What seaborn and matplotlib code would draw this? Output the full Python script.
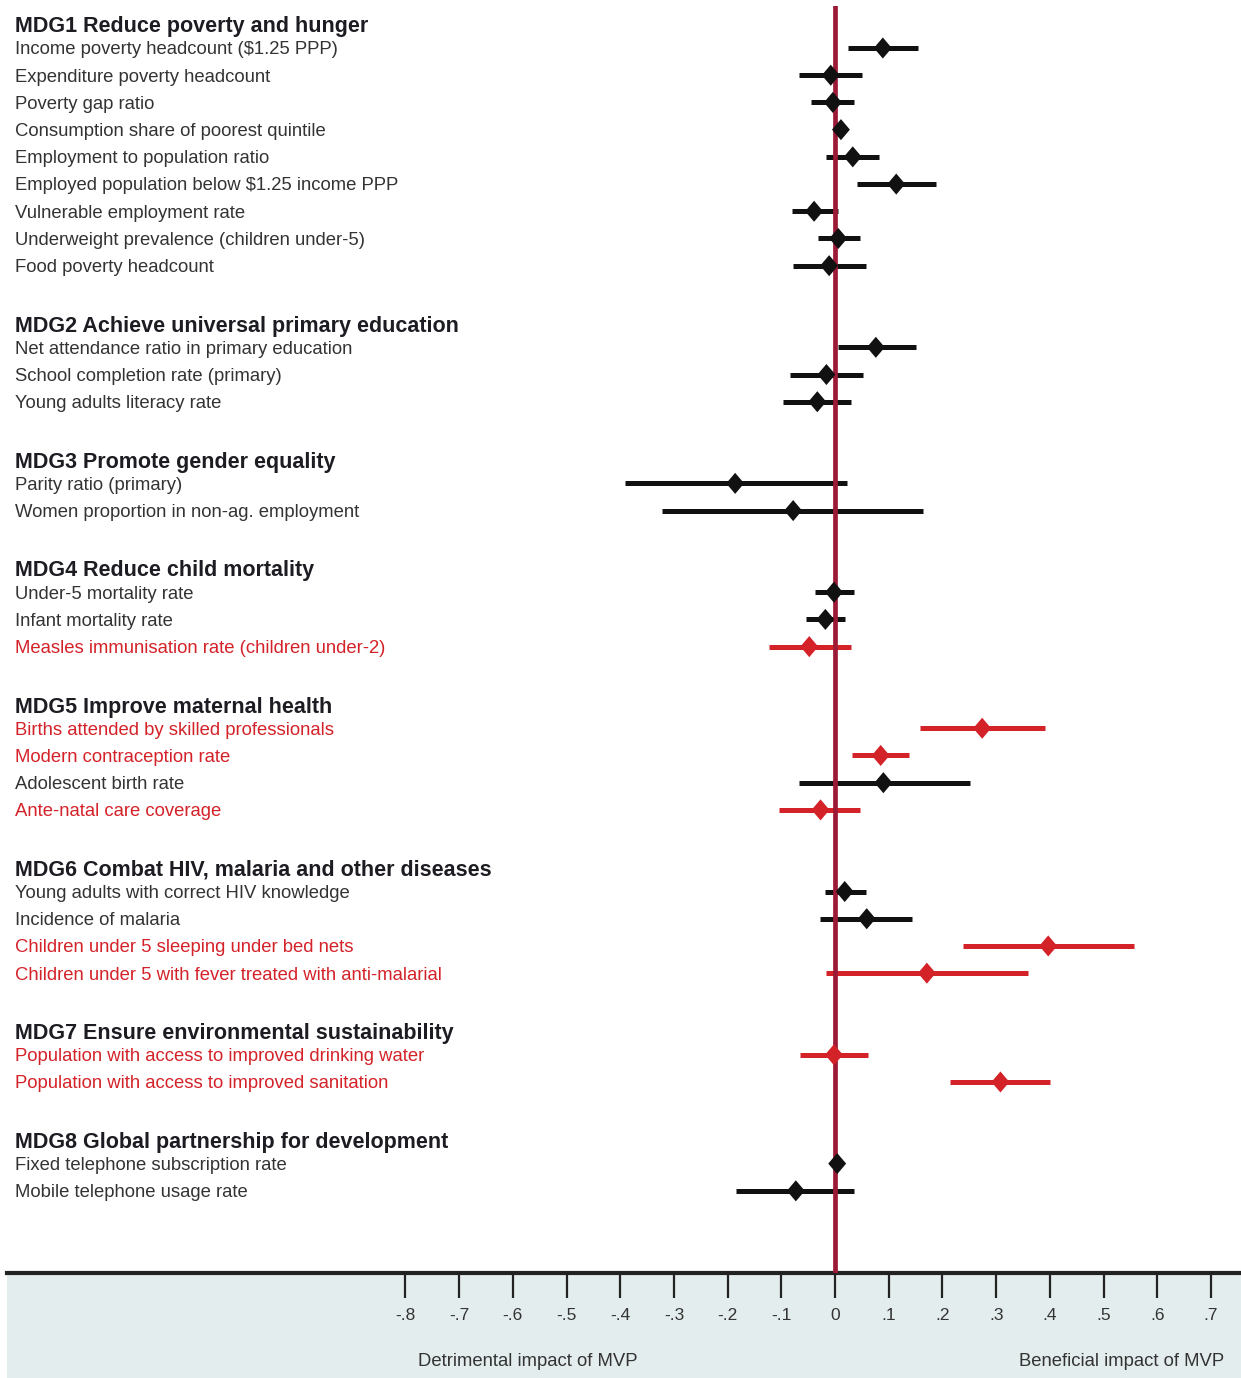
import numpy as np
import pandas as pd
import matplotlib.pyplot as plt
from matplotlib.path import Path
from matplotlib.markers import MarkerStyle
from matplotlib.patches import Rectangle
import seaborn as sns

sns.set_theme(style="white")
plt.rcParams['font.family'] = ['Liberation Sans', 'DejaVu Sans']

# ---- data ----
groups = [
    "MDG1 Reduce poverty and hunger",
    "MDG2 Achieve universal primary education",
    "MDG3 Promote gender equality",
    "MDG4 Reduce child mortality",
    "MDG5 Improve maternal health",
    "MDG6 Combat HIV, malaria and other diseases",
    "MDG7 Ensure environmental sustainability",
    "MDG8 Global partnership for development",
]
group_sizes = [9, 3, 2, 3, 4, 4, 2, 2]

indicators = [
    "Income poverty headcount ($1.25 PPP)",
    "Expenditure poverty headcount",
    "Poverty gap ratio",
    "Consumption share of poorest quintile",
    "Employment to population ratio",
    "Employed population below $1.25 income PPP",
    "Vulnerable employment rate",
    "Underweight prevalence (children under-5)",
    "Food poverty headcount",
    "Net attendance ratio in primary education",
    "School completion rate (primary)",
    "Young adults literacy rate",
    "Parity ratio (primary)",
    "Women proportion in non-ag. employment",
    "Under-5 mortality rate",
    "Infant mortality rate",
    "Measles immunisation rate (children under-2)",
    "Births attended by skilled professionals",
    "Modern contraception rate",
    "Adolescent birth rate",
    "Ante-natal care coverage",
    "Young adults with correct HIV knowledge",
    "Incidence of malaria",
    "Children under 5 sleeping under bed nets",
    "Children under 5 with fever treated with anti-malarial",
    "Population with access to improved drinking water",
    "Population with access to improved sanitation",
    "Fixed telephone subscription rate",
    "Mobile telephone usage rate",
]
estimate = [0.089, -0.008, -0.004, 0.011, 0.033, 0.114, -0.039, 0.006, -0.011,
            0.076, -0.016, -0.033,
            -0.186, -0.078,
            -0.002, -0.018, -0.048,
            0.274, 0.085, 0.090, -0.027,
            0.018, 0.059, 0.397, 0.171,
            -0.002, 0.308,
            0.004, -0.073]
ci_low = [0.024, -0.068, -0.045, 0.004, -0.016, 0.041, -0.081, -0.031, -0.078,
          0.005, -0.083, -0.097,
          -0.391, -0.322,
          -0.038, -0.054, -0.123,
          0.158, 0.031, -0.068, -0.104,
          -0.019, -0.028, 0.238, -0.016,
          -0.065, 0.215,
          0.000, -0.185]
ci_high = [0.154, 0.050, 0.035, 0.018, 0.082, 0.188, 0.005, 0.047, 0.057,
           0.151, 0.052, 0.029,
           0.022, 0.164,
           0.035, 0.019, 0.029,
           0.391, 0.138, 0.251, 0.047,
           0.057, 0.144, 0.557, 0.359,
           0.061, 0.401,
           0.008, 0.035]
significant = [0, 0, 0, 0, 0, 0, 0, 0, 0,
               0, 0, 0,
               0, 0,
               0, 0, 1,
               1, 1, 0, 1,
               0, 0, 1, 1,
               1, 1,
               0, 0]

tick_values = [-0.8, -0.7, -0.6, -0.5, -0.4, -0.3, -0.2, -0.1, 0, 0.1, 0.2, 0.3, 0.4, 0.5, 0.6, 0.7]
tick_labels = ['-.8', '-.7', '-.6', '-.5', '-.4', '-.3', '-.2', '-.1', '0',
               '.1', '.2', '.3', '.4', '.5', '.6', '.7']

RED = '#d42229'
BLACK = '#111111'
LINE_RED = '#9c1a36'

# ---- row layout: header, items, blank ----
header_rows = []
item_rows = []
r = 0
for n in group_sizes:
    header_rows.append(r)
    item_rows.extend(range(r + 1, r + 1 + n))
    r += n + 2

df = pd.DataFrame({
    'indicator': indicators,
    'row': item_rows,
    'estimate': estimate,
    'low': ci_low,
    'high': ci_high,
    'sig': ['yes' if s else 'no' for s in significant],
})

W, H = 1241, 1378
fig = plt.figure(figsize=(W / 100, H / 100), dpi=100)
ax = fig.add_axes([7 / W, (H - 1273) / H, (W - 7) / W, (1273 - 6) / H])

# light band under the axis
fig.patches.append(Rectangle((7 / W, 0), (W - 7) / W, (H - 1273) / H,
                             transform=fig.transFigure, facecolor='#e4eded',
                             edgecolor='none', zorder=-5))

colors = {'no': BLACK, 'yes': RED}
for _, row in df.iterrows():
    ax.hlines(row['row'], row['low'], row['high'], color=colors[row['sig']],
              linewidth=3.6, zorder=2)

ax.axvline(0, color=LINE_RED, linewidth=3.4, zorder=3)

diamond = MarkerStyle(Path([(0, 1), (0.85, 0), (0, -1), (-0.85, 0), (0, 1)]))
sns.scatterplot(data=df, x='estimate', y='row', hue='sig', palette=colors,
                marker=diamond, s=230, linewidth=0, legend=False, ax=ax, zorder=4)

# labels on the left
lab_tr = ax.get_yaxis_transform()
for g, hr in zip(groups, header_rows):
    ax.text(0.0065, hr + 0.22, g, transform=lab_tr, ha='left', va='center',
            fontsize=15.5, fontweight='bold', color='#1c1c22')
for _, row in df.iterrows():
    ax.text(0.0065, row['row'] + 0.07, row['indicator'], transform=lab_tr, ha='left',
            va='center', fontsize=13.3,
            color=RED if row['sig'] == 'yes' else '#333333')

ax.set_xlim(-1.542, 0.756)
ax.set_ylim(46.02, -0.544)
ax.set_xticks(tick_values, labels=tick_labels)
ax.set_yticks([])
ax.set_xlabel('')
ax.set_ylabel('')
for s in ['top', 'left', 'right']:
    ax.spines[s].set_visible(False)
ax.spines['bottom'].set_linewidth(3)
ax.spines['bottom'].set_color('#222222')
ax.tick_params(axis='x', direction='out', length=18, width=1.6, color='#222222',
               pad=7.5, labelsize=12.5, labelcolor='#333333', bottom=True)
ax.set_facecolor('white')

fig.text(528 / W, 1 - 1362 / H, 'Detrimental impact of MVP', ha='center',
         va='center', fontsize=13.3, color='#333333')
fig.text(1224 / W, 1 - 1362 / H, 'Beneficial impact of MVP', ha='right',
         va='center', fontsize=13.3, color='#333333')

fig.savefig('out.png', dpi=100, facecolor='white')
